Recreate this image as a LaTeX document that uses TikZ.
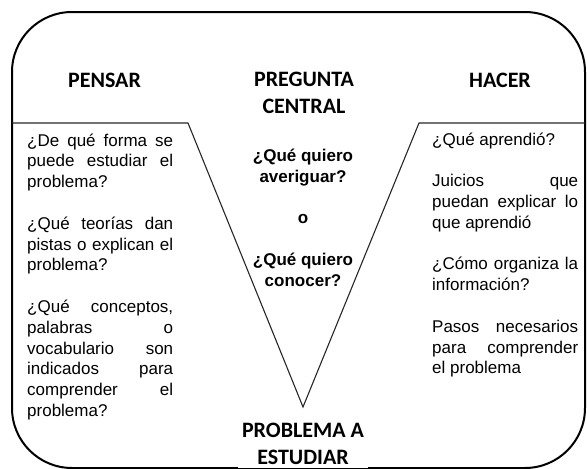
\documentclass[tikz,border=0pt]{standalone}
\usepackage{fontspec}
\setmainfont{Liberation Sans}
\newfontfamily\headfont{Carlito}
\setlength{\parindent}{0pt}
\hyphenpenalty=10000
\exhyphenpenalty=10000
\tolerance=10000
\begin{document}
\begin{tikzpicture}[
x=1pt,y=-1pt,
title/.style={
font=\headfont\bfseries\fontsize{22}{26.7}\selectfont,
align=center,
inner sep=0pt,
anchor=base
},
column/.style={
font=\fontsize{17}{20.8}\selectfont,
text width=146pt,
align=justify,
inner sep=0pt,
anchor=base west
},
question/.style={
font=\bfseries\fontsize{17}{20.8}\selectfont,
align=center,
inner sep=0pt,
anchor=base
}
]
\useasboundingbox (0,0) rectangle (587,469);

\draw[line width=2pt, rounded corners=60pt] (12,12) rectangle (585,468);

\coordinate (left) at (12,123);
\coordinate (topleft) at (188,123);
\coordinate (tip) at (303,407);
\coordinate (topright) at (419,123);
\coordinate (right) at (585,123);

\draw[line width=1.1pt, black!85] (left) -- (topleft) -- (tip) -- (topright) -- (right);

\node[title] (pensar) at (104.5,87)
{PENSAR};

\node[title] (pregunta) at (304,113.3)
{PREGUNTA\\CENTRAL};

\node[title] (hacer) at (500,87)
{HACER};

\node[title, fill=white, inner xsep=4pt, inner ysep=4pt] (problema) at (303,464)
{PROBLEMA A\\ESTUDIAR};

\node[question] (quiero) at (303,286)
{¿Qué quiero\\averiguar?\\[20.8pt]o\\[20.8pt]¿Qué quiero\\conocer?};

\node[column] (ideas) at (27,146)
{¿De qué forma se\linebreak puede estudiar el\linebreak problema?\par\vspace{20.8pt}
¿Qué teorías dan\linebreak pistas o explican el\linebreak problema?\par\vspace{20.8pt}
¿Qué conceptos,\linebreak palabras o\linebreak vocabulario son\linebreak indicados para\linebreak comprender el\linebreak problema?};

\node[column] (acciones) at (432,145)
{¿Qué aprendió?\par\vspace{20.8pt}
Juicios que\linebreak puedan explicar lo\linebreak que aprendió\par\vspace{20.8pt}
¿Cómo organiza la\linebreak información?\par\vspace{20.8pt}
Pasos necesarios\linebreak para comprender\linebreak el problema};

\end{tikzpicture}
\end{document}
